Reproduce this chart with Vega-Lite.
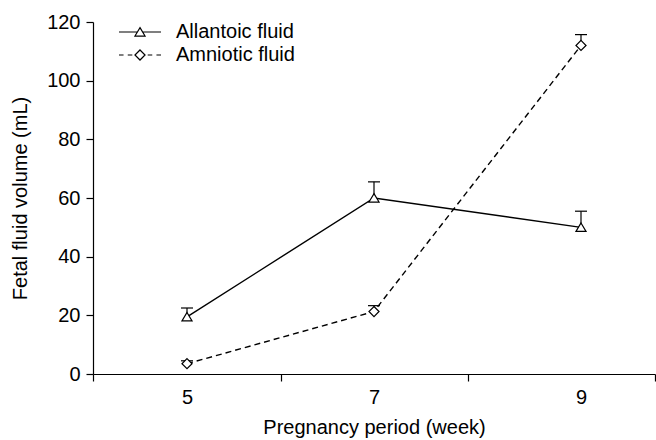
{
  "$schema": "https://vega.github.io/schema/vega-lite/v6.json",
  "width": 562,
  "height": 352,
  "autosize": {"type": "none"},
  "padding": {"left": 93, "top": 22, "right": 1, "bottom": 66},
  "background": "white",
  "config": {
    "view": {"stroke": null},
    "font": "Liberation Sans",
    "axis": {
      "grid": false,
      "domainColor": "black",
      "domainWidth": 1.2,
      "tickColor": "black",
      "tickWidth": 1.2,
      "labelColor": "black",
      "titleColor": "black",
      "labelFont": "Liberation Sans",
      "titleFont": "Liberation Sans",
      "labelFontSize": 20,
      "titleFontSize": 20,
      "titleFontWeight": "normal"
    }
  },
  "data": {
    "values": [
      {"week": 5, "series": "Allantoic fluid", "volume": 19.5, "upper": 22.5},
      {"week": 7, "series": "Allantoic fluid", "volume": 60, "upper": 65.5},
      {"week": 9, "series": "Allantoic fluid", "volume": 50, "upper": 55.5},
      {"week": 5, "series": "Amniotic fluid", "volume": 3.5, "upper": 4.5},
      {"week": 7, "series": "Amniotic fluid", "volume": 21.3, "upper": 23.3},
      {"week": 9, "series": "Amniotic fluid", "volume": 112, "upper": 115.7}
    ]
  },
  "encoding": {
    "x": {
      "field": "week",
      "type": "quantitative",
      "scale": {"domain": [4, 5, 6, 7, 8, 9, 10], "range": [0, 94, 188, 281, 375, 488, 562], "nice": false, "zero": false},
      "axis": {
        "title": "Pregnancy period (week)",
        "values": [4, 5, 6, 7, 8, 9, 10],
        "labelExpr": "datum.value % 2 == 1 ? datum.label : ''",
        "tickOpacity": {"condition": {"test": "datum.value % 2 == 1", "value": 0}, "value": 1},
        "tickSize": 7,
        "labelPadding": 6,
        "titlePadding": 10,
        "labelFlush": false,
        "labelOverlap": false
      }
    },
    "y": {
      "field": "volume",
      "type": "quantitative",
      "scale": {"domain": [0, 120], "nice": false},
      "axis": {
        "title": "Fetal fluid volume (mL)",
        "values": [0, 20, 40, 60, 80, 100, 120],
        "tickSize": 7,
        "labelPadding": 6,
        "titlePadding": 16
      }
    }
  },
  "layer": [
    {
      "transform": [{"filter": "datum.series === 'Allantoic fluid'"}],
      "mark": {"type": "line", "stroke": "black", "strokeWidth": 1.4},
      "encoding": {}
    },
    {
      "transform": [{"filter": "datum.series === 'Amniotic fluid'"}],
      "mark": {"type": "line", "stroke": "black", "strokeWidth": 1.4, "strokeDash": [6, 4]},
      "encoding": {}
    },
    {
      "mark": {"type": "rule", "stroke": "black", "strokeWidth": 1.2},
      "encoding": {
        "y2": {"field": "upper"}
      }
    },
    {
      "mark": {"type": "tick", "orient": "horizontal", "size": 12, "thickness": 1.2, "color": "black", "opacity": 1},
      "encoding": {
        "y": {"field": "upper", "type": "quantitative"}
      }
    },
    {
      "transform": [{"filter": "datum.series === 'Allantoic fluid'"}],
      "mark": {"type": "point", "shape": "M0,-0.62L0.72,0.58L-0.72,0.58Z", "filled": true, "fill": "white", "stroke": "black", "strokeWidth": 1.2, "size": 196, "opacity": 1}
    },
    {
      "transform": [{"filter": "datum.series === 'Amniotic fluid'"}],
      "mark": {"type": "point", "shape": "M0,-0.72L0.72,0L0,0.72L-0.72,0Z", "filled": true, "fill": "white", "stroke": "black", "strokeWidth": 1.2, "size": 196, "opacity": 1}
    },
    {
      "transform": [{"filter": "false"}],
      "mark": {"type": "point", "filled": false, "color": "black", "stroke": "black", "strokeWidth": 1.2, "size": 196, "opacity": 1},
      "encoding": {
        "shape": {
          "field": "series",
          "type": "nominal",
          "scale": {
            "domain": ["Allantoic fluid", "Amniotic fluid"],
            "range": [
              "M-3,0H-0.37M0.37,0H3M0,-0.62L0.72,0.58L-0.72,0.58Z",
              "M-3,0H-2.35M-1.75,0H-1.1M1.1,0H1.75M2.35,0H3M0,-0.72L0.72,0L0,0.72L-0.72,0Z"
            ]
          },
          "legend": {
            "orient": "none",
            "legendX": 37,
            "legendY": 0,
            "title": null,
            "padding": 0,
            "symbolSize": 196,
            "symbolStrokeColor": "black",
            "symbolStrokeWidth": 1.2,
            "symbolOpacity": 1,
            "labelFontSize": 20,
            "labelFont": "Liberation Sans",
            "labelColor": "black",
            "labelOffset": 26,
            "labelLimit": 300,
            "rowPadding": 3
          }
        }
      }
    }
  ]
}
